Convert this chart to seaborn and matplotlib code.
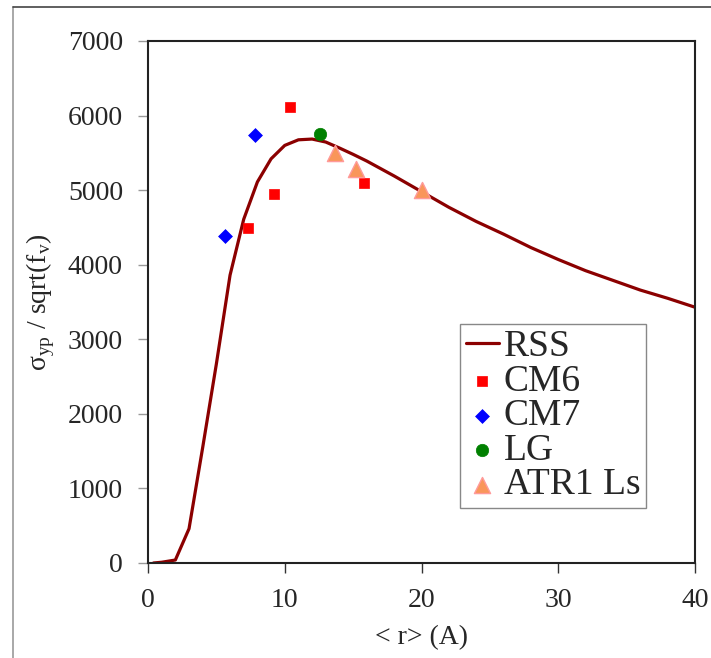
import matplotlib
matplotlib.use("Agg")
from matplotlib import pyplot as plt
from matplotlib.lines import Line2D
import pandas as pd
import seaborn as sns

# RSS model curve
rss_r = [0.4, 1, 2, 3, 4, 5, 6, 7, 8, 9, 10, 11, 12, 13, 14, 15, 16, 18, 20,
         22, 24, 26, 28, 30, 32, 34, 36, 38, 40]
rss_s = [0, 10, 40, 460, 1550, 2670, 3860, 4610, 5110, 5420, 5600, 5675, 5685,
         5645, 5565, 5480, 5390, 5190, 4980, 4770, 4580, 4410, 4230, 4070,
         3920, 3790, 3660, 3550, 3430]

# measured points
cm6_r = [7.3, 9.2, 10.4, 15.8]
cm6_s = [4490, 4950, 6110, 5100]
cm7_r = [5.6, 7.8]
cm7_s = [4390, 5740]
lg_r = [12.6]
lg_s = [5750]
atr_r = [13.7, 15.2, 20.0]
atr_s = [5500, 5280, 5000]

sns.set_theme(style="ticks")
plt.rcParams['font.family'] = ['Liberation Serif', 'DejaVu Serif']
plt.rcParams['mathtext.fontset'] = 'custom'
plt.rcParams['mathtext.rm'] = 'Liberation Serif'

fig = plt.figure(figsize=(7.11, 6.58), dpi=100)
ax = fig.add_axes([148 / 711, 1 - 563 / 658, 547 / 711, 522 / 658])

rss = pd.DataFrame({'r': rss_r, 's': rss_s})
sns.lineplot(data=rss, x='r', y='s', color='#8B0000', lw=2.3, ax=ax,
             label='RSS', sort=False)
sns.scatterplot(x=cm6_r, y=cm6_s, marker='s', s=56, color='#FF0000',
                edgecolor='#FF0000', lw=0.5, ax=ax, label='CM6', zorder=3)
sns.scatterplot(x=cm7_r, y=cm7_s, marker='D', s=50, color='#0000FF',
                edgecolor='#0000FF', lw=0.5, ax=ax, label='CM7', zorder=3)
sns.scatterplot(x=lg_r, y=lg_s, marker='o', s=80, color='#008000',
                edgecolor='#008000', lw=0.5, ax=ax, label='LG', zorder=3)
sns.scatterplot(x=atr_r, y=atr_s, marker='^', s=135, color='#F9965A',
                edgecolor='#FF9A9A', lw=1, ax=ax, label='ATR1 Ls', zorder=3)

ax.set_xlim(0, 40)
ax.set_ylim(0, 7000)
ax.set_xticks(range(0, 41, 10))
ax.set_yticks(range(0, 7001, 1000))
ax.tick_params(axis='both', direction='out', length=7, width=1,
               labelsize=20, pad=11)
ax.tick_params(axis='y', color='#999999')
ax.tick_params(axis='x', color='#333333')
for sp in ax.spines.values():
    sp.set_visible(True)
    sp.set_color('#222222')
    sp.set_linewidth(1.5)

ax.set_xlabel('< r> (A)', fontsize=20, va='center')
ax.xaxis.set_label_coords(0.5, -0.1437)
ax.set_ylabel(r'σ$_{\mathrm{yp}}$ / sqrt(f$_{\mathrm{v}}$)', fontsize=20,
              va='center')
ax.yaxis.set_label_coords(-0.197, 0.5)

leg = ax.legend(loc='lower left', bbox_to_anchor=((460 - 148) / 547, 0.1054),
                borderaxespad=0, fontsize=27, frameon=True, fancybox=False,
                framealpha=1, edgecolor='#888888', labelspacing=0.0,
                handlelength=0.9, handletextpad=0.12, borderpad=0.15)
leg.get_frame().set_linewidth(1)

# outer frame of the original screenshot
fig.add_artist(Line2D([13 / 711, 13 / 711], [0, 1 - 7 / 658],
                      color='#999999', lw=1.2, transform=fig.transFigure))
fig.add_artist(Line2D([13 / 711, 1], [1 - 7 / 658, 1 - 7 / 658],
                      color='#444444', lw=1.2, transform=fig.transFigure))

fig.savefig('out.png', dpi=100)
